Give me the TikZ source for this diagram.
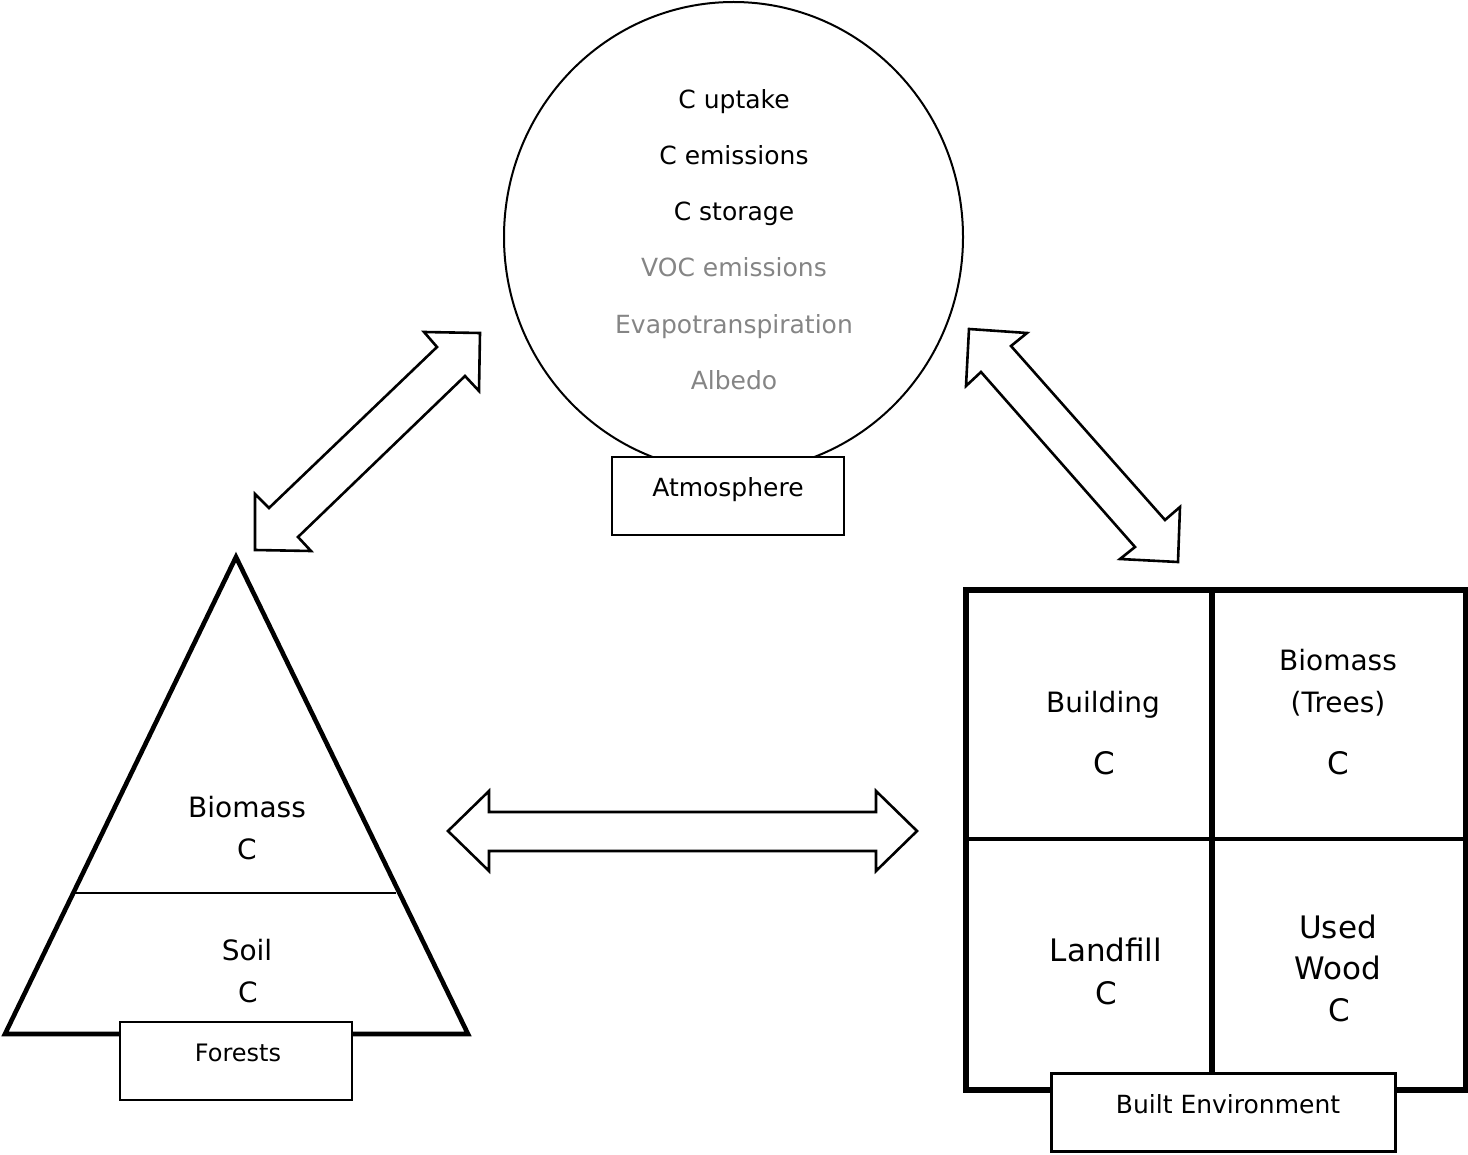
\documentclass[tikz,border=0pt]{standalone}
\usepackage{fontspec}
\setmainfont{DejaVu Sans}
\usetikzlibrary{shapes.geometric}
\definecolor{softgray}{HTML}{858585}
\newcommand{\fsz}[1]{\fontsize{#1}{#1}\selectfont}
\begin{document}
\begin{tikzpicture}[x=0.5pt,y=-0.5pt,
  txt/.style={inner sep=0pt,anchor=base},
  circtxt/.style={txt,font=\fsz{12.5}},
  graytxt/.style={circtxt,text=softgray},
  midtxt/.style={txt,font=\fsz{14}},
  bigtxt/.style={txt,font=\fsz{15.5}},
  tagbox/.style={draw,line width=1pt,fill=white,inner sep=0pt},
  blockarrow/.style={draw,line width=1.3pt,line join=miter,fill=white}]
\useasboundingbox (0,0) rectangle (1468,1155);

% ---------- Atmosphere ----------
\node[ellipse,draw,line width=1pt,minimum width=229.5pt,minimum height=235pt,inner sep=0pt] (atm) at (733.5,237) {};
\node[tagbox,minimum width=116pt,minimum height=39pt] (atmbox) at (728,496) {};
\node[circtxt] (atmlbl) at (728,496) {Atmosphere};
\node[circtxt] (t1) at (734,109) {C uptake};
\node[circtxt] (t2) at (734,165) {C emissions};
\node[circtxt] (t3) at (734,221) {C storage};
\node[graytxt] (t4) at (734,277) {VOC emissions};
\node[graytxt] (t5) at (734,334) {Evapotranspiration};
\node[graytxt] (t6) at (734,390) {Albedo};

% ---------- Forests ----------
\coordinate (apex) at (236,557);
\coordinate (bl) at (5,1034);
\coordinate (br) at (468,1034);
\draw[line width=2.3pt,line join=miter] (apex) -- (br) -- (bl) -- cycle;
\coordinate (ml) at (74,893);
\coordinate (mr) at (396,893);
\draw[line width=0.7pt] (ml) -- (mr);
\node[tagbox,minimum width=116pt,minimum height=39pt] (forbox) at (236,1061) {};
\node[txt,font=\fsz{12}] (forlbl) at (238,1061) {Forests};
\node[midtxt] (p1) at (247,817) {Biomass};
\node[midtxt] (p2) at (247,859) {C};
\node[midtxt] (p3) at (247,960) {Soil};
\node[midtxt] (p4) at (248,1002) {C};

% ---------- Built environment ----------
\coordinate (be1) at (966,590);
\coordinate (be2) at (1466,1090);
\draw[line width=2.9pt,line join=miter] (be1) rectangle (be2);
\coordinate (vt) at (1212,590);
\coordinate (vb) at (1212,1090);
\draw[line width=2.6pt] (vt) -- (vb);
\coordinate (hl) at (966,839);
\coordinate (hr) at (1466,839);
\draw[line width=1.8pt] (hl) -- (hr);
\node[tagbox,line width=1.5pt,minimum width=172pt,minimum height=39pt] (bebox) at (1223,1112) {};
\node[txt,font=\fsz{12.5}] (belbl) at (1228,1113) {Built Environment};
\node[midtxt] (c1a) at (1103,712) {Building};
\node[bigtxt] (c1b) at (1104,774) {C};
\node[midtxt] (c2a) at (1338,670) {Biomass};
\node[midtxt] (c2b) at (1338,712) {(Trees)};
\node[bigtxt] (c2c) at (1338,774) {C};
\node[bigtxt] (c3a) at (1106,961) {Landfill};
\node[bigtxt] (c3b) at (1106,1004) {C};
\node[bigtxt] (c4a) at (1338,938) {Used};
\node[bigtxt] (c4b) at (1338,979) {Wood};
\node[bigtxt] (c4c) at (1339,1021) {C};

% ---------- Block arrows ----------
\draw[blockarrow] (480,333) -- (424,332) -- (437,347) -- (269,508) -- (255,494)
  -- (255,550) -- (311,551) -- (298,537) -- (465,376) -- (479,391) -- cycle;
\draw[blockarrow] (969,329) -- (1027,333) -- (1011,346) -- (1165,520) -- (1180,507)
  -- (1178,562) -- (1120,559) -- (1135,547) -- (981,372) -- (966,386) -- cycle;
\draw[blockarrow] (448,831) -- (489,791) -- (489,812) -- (876,812) -- (876,791)
  -- (917,831) -- (876,871) -- (876,851) -- (489,851) -- (489,871) -- cycle;
\end{tikzpicture}
\end{document}
